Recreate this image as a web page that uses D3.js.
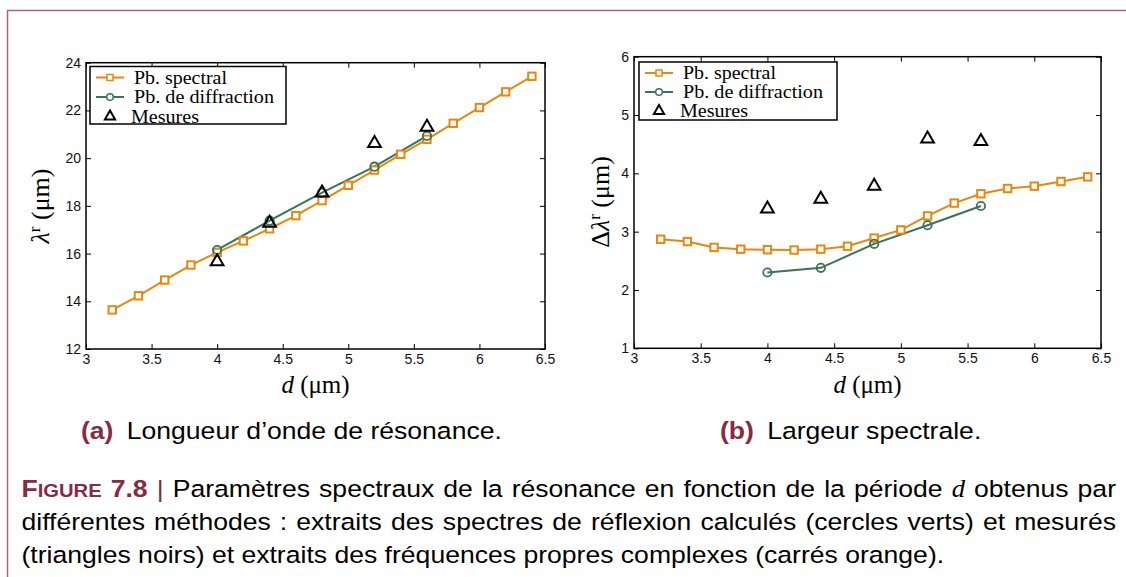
<!DOCTYPE html>
<html><head><meta charset="utf-8">
<script src="https://cdn.jsdelivr.net/npm/d3@7/dist/d3.min.js"></script>
<style>
html,body{margin:0;padding:0;background:#fff;}
svg{display:block;}
.tick text{font-family:"Liberation Sans",Arial,sans-serif;font-size:14px;fill:#111;}
.tick line{stroke:#000;stroke-width:1;}
</style></head>
<body>
<svg id="fig" width="1126" height="577"></svg>
<script>
// ---------- data ----------
const dSpectral = [3.2,3.4,3.6,3.8,4.0,4.2,4.4,4.6,4.8,5.0,5.2,5.4,5.6,5.8,6.0,6.2,6.4];
const lambdaSpectral = [13.64,14.23,14.89,15.52,16.05,16.53,17.04,17.59,18.22,18.86,19.50,20.16,20.79,21.46,22.12,22.78,23.43];
const widthSpectral = [2.87,2.83,2.73,2.70,2.69,2.685,2.70,2.75,2.89,3.03,3.27,3.49,3.65,3.74,3.78,3.86,3.94];
const dDiffraction = [4.0,4.4,4.8,5.2,5.6];
const lambdaDiffraction = [16.15,17.38,18.55,19.64,20.93];
const widthDiffraction = [2.30,2.38,2.79,3.11,3.44];
const dMeasured = [4.0,4.4,4.8,5.2,5.6];
const lambdaMeasured = [15.66,17.28,18.55,20.62,21.30];
const widthMeasured = [3.39,3.56,3.78,4.59,4.55];
const xTicks = [3,3.5,4,4.5,5,5.5,6,6.5];
const yTicksA = [12,14,16,18,20,22,24];
const yTicksB = [1,2,3,4,5,6];
const legendLabels = ["Pb. spectral","Pb. de diffraction","Mesures"];

const ORANGE = "#E8870F", GREEN = "#3B7356", MAROON = "#862B45";
const SERIF = "'Liberation Serif','Times New Roman',serif";
const SANS = "'Liberation Sans',Arial,sans-serif";
const svg = d3.select("#fig");

// frame
svg.append("line").attr("x1",7).attr("x2",1126).attr("y1",10.5).attr("y2",10.5)
  .attr("stroke","#a8657a").attr("stroke-width",1.5);
svg.append("line").attr("x1",7.5).attr("x2",7.5).attr("y1",10).attr("y2",577)
  .attr("stroke","#a8657a").attr("stroke-width",1.5);

function panel(cfg){
  const g = svg.append("g");
  const x = d3.scaleLinear().domain([3,6.5]).range([cfg.left,cfg.right]);
  const y = d3.scaleLinear().domain(cfg.yDomain).range([cfg.bottom,cfg.top]);
  const ax = (a,t,labels)=>a.tickValues(t).tickSizeInner(-5).tickSizeOuter(0).tickPadding(labels?5:0)
      .tickFormat(labels?d3.format("~g"):()=> "");
  g.append("g").attr("transform",`translate(0,${cfg.bottom})`).call(ax(d3.axisBottom(x),xTicks,true));
  g.append("g").attr("transform",`translate(0,${cfg.top})`).call(ax(d3.axisTop(x),xTicks,false));
  g.append("g").attr("transform",`translate(${cfg.left},0)`).call(ax(d3.axisLeft(y),cfg.yTicks,true));
  g.append("g").attr("transform",`translate(${cfg.right},0)`).call(ax(d3.axisRight(y),cfg.yTicks,false));
  g.selectAll(".domain").remove();
  g.append("rect").attr("x",cfg.left).attr("y",cfg.top).attr("width",cfg.right-cfg.left)
    .attr("height",cfg.bottom-cfg.top).attr("fill","none").attr("stroke","#000").attr("stroke-width",1.5);

  const line = d3.line().x(d=>x(d[0])).y(d=>y(d[1]));
  const sp = dSpectral.map((d,i)=>[d,cfg.spectral[i]]);
  const df = dDiffraction.map((d,i)=>[d,cfg.diffraction[i]]);
  const ms = dMeasured.map((d,i)=>[d,cfg.measured[i]]);
  g.append("path").datum(df).attr("d",line).attr("fill","none").attr("stroke",GREEN).attr("stroke-width",2);
  g.append("path").datum(sp).attr("d",line).attr("fill","none").attr("stroke",ORANGE).attr("stroke-width",2);
  g.selectAll(".sq").data(sp).join("rect").attr("x",d=>x(d[0])-3.7).attr("y",d=>y(d[1])-3.7)
    .attr("width",7.4).attr("height",7.4).attr("fill","#fff").attr("stroke",ORANGE).attr("stroke-width",2);
  g.selectAll(".ci").data(df).join("circle").attr("cx",d=>x(d[0])).attr("cy",d=>y(d[1])).attr("r",4.2)
    .attr("fill","none").attr("stroke",GREEN).attr("stroke-width",1.8);
  const tri = d3.symbol(d3.symbolTriangle,70);
  g.selectAll(".tr").data(ms).join("path").attr("d",tri)
    .attr("transform",d=>`translate(${x(d[0])},${y(d[1])})`)
    .attr("fill","none").attr("stroke","#000").attr("stroke-width",2);

  // legend
  const L = cfg.legend;
  const lw = [93,140,68];
  g.append("rect").attr("x",L.x).attr("y",L.y).attr("width",L.w).attr("height",L.h)
    .attr("fill","#fff").attr("stroke","#000").attr("stroke-width",1.5);
  legendLabels.forEach((lab,i)=>{
    const cy = L.y + 11 + i*L.dy;
    const gx = L.x+6;
    if(i<2){
      const c = i===0?ORANGE:GREEN;
      g.append("line").attr("x1",gx).attr("x2",gx+28).attr("y1",cy).attr("y2",cy).attr("stroke",c).attr("stroke-width",2);
      if(i===0) g.append("rect").attr("x",gx+14-3).attr("y",cy-3).attr("width",6).attr("height",6)
        .attr("fill","#fff").attr("stroke",c).attr("stroke-width",1.5);
      else g.append("circle").attr("cx",gx+14).attr("cy",cy).attr("r",3.3)
        .attr("fill","#fff").attr("stroke",c).attr("stroke-width",1.5);
    } else {
      g.append("path").attr("d",d3.symbol(d3.symbolTriangle,45)).attr("transform",`translate(${gx+14},${cy})`)
        .attr("fill","none").attr("stroke","#000").attr("stroke-width",2);
    }
    g.append("text").attr("x",L.x+(i===2?41:44)).attr("y",cy+6).text(lab)
      .attr("font-family",SERIF).attr("font-size",19)
      .attr("textLength",lw[i]).attr("lengthAdjust","spacingAndGlyphs");
  });

  // axis labels
  const xl = g.append("text").attr("x",(cfg.left+cfg.right)/2).attr("y",393).attr("text-anchor","middle")
    .attr("font-family",SERIF).attr("font-size",25);
  xl.append("tspan").attr("font-style","italic").text("d");
  xl.append("tspan").text(" (μm)");
  const yl = g.append("text").attr("transform",`translate(${cfg.ylx},${cfg.yly}) rotate(-90)`).attr("text-anchor","middle")
    .attr("font-family",SERIF).attr("font-size",26);
  if(cfg.delta) yl.append("tspan").text("Δ");
  yl.append("tspan").attr("font-style","italic").text("λ");
  yl.append("tspan").attr("font-size",17).attr("dy",-9).text("r");
  yl.append("tspan").attr("dy",9).text(" (μm)");
}

panel({left:86,right:545,top:62.7,bottom:349,yDomain:[12,24],yTicks:yTicksA,
  spectral:lambdaSpectral,diffraction:lambdaDiffraction,measured:lambdaMeasured,
  legend:{x:90,y:66.5,w:196,h:57.5,dy:19.5},ylx:49,yly:206,delta:false});
panel({left:634,right:1101,top:56.7,bottom:348.3,yDomain:[1,6],yTicks:yTicksB,
  spectral:widthSpectral,diffraction:widthDiffraction,measured:widthMeasured,
  legend:{x:639,y:62,w:198,h:58,dy:19},ylx:609,yly:202,delta:true});

// ---------- captions ----------
const FS = 24.5;
const cap = svg.append("g");
function mkText(y){ return cap.append("text").attr("y",y).attr("font-family",SANS).attr("font-size",FS); }
function sub(tag, txt, y){
  const t = mkText(y);
  t.append("tspan").attr("font-weight","bold").attr("fill",MAROON).text(tag);
  t.append("tspan").text("\u2002"+txt);
  return t;
}
const sa = sub("(a)","Longueur d\u2019onde de résonance.",439);
const k = 421 / sa.node().getComputedTextLength();
cap.attr("transform",`scale(${k},1)`);
sa.attr("x",81/k);
sub("(b)","Largeur spectrale.",439).attr("x",720/k);

function justify(t, x0, x1){
  t.attr("x",x0/k);
  const w = t.node().getComputedTextLength();
  const n = (t.text().match(/ /g)||[]).length;
  const ws = (x1-x0)/k - w;
  if(ws>0) t.attr("word-spacing", (ws/n).toFixed(3));
}
const l1 = mkText(497);
l1.append("tspan").attr("fill",MAROON).attr("font-weight","bold").text("F");
l1.append("tspan").attr("fill",MAROON).attr("font-weight","bold").attr("font-size",FS*0.76).text("IGURE");
l1.append("tspan").attr("fill",MAROON).attr("font-weight","bold").text(" 7.8");
l1.append("tspan").attr("fill",MAROON).text(" | ");
l1.append("tspan").text("Paramètres spectraux de la résonance en fonction de la période ");
l1.append("tspan").attr("font-family",SERIF).attr("font-style","italic").text("d");
l1.append("tspan").text(" obtenus par");
justify(l1,21.5,1116);
const l2 = mkText(530).text("différentes méthodes : extraits des spectres de réflexion calculés (cercles verts) et mesurés");
justify(l2,21.5,1116);
mkText(563).attr("x",21.5/k).text("(triangles noirs) et extraits des fréquences propres complexes (carrés orange).");
</script>
</body></html>
